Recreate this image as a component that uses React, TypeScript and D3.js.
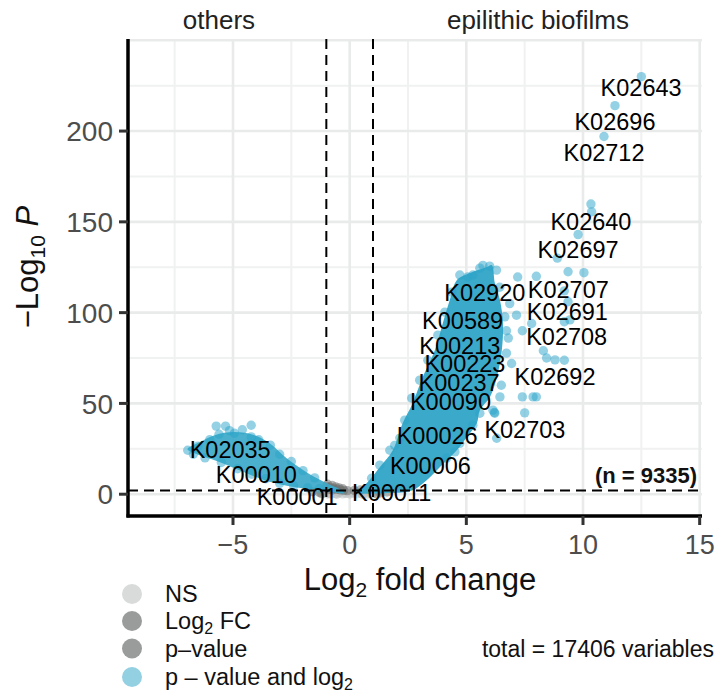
import * as d3 from "d3";

// axis ticks
const xTicks = [-5, 0, 5, 10, 15];
const xMinor = [-7.5, -2.5, 2.5, 7.5, 12.5];
const yTicks = [0, 50, 100, 150, 200];
const yGrid = [0, 50, 100, 150, 200, 250];
const yMinor = [25, 75, 125, 175, 225];

// cutoffs
const fcCutoff = 1;
const pCutoff = 2;

// dense part of the significant clouds (outline)
const rightCloud: [number, number][] = [
  [0.21, 1.1], [0.64, 5], [1.29, 14.9], [1.85, 24.2], [2.27, 39.1], [2.7, 50.1],
  [3.13, 64.5], [3.65, 79.3], [3.99, 94.2], [4.29, 106.9], [4.59, 117.9],
  [5.15, 121.8], [5.88, 125.1], [6.09, 126.2], [6.22, 116.3], [6.44, 106.9],
  [6.57, 94.2], [6.52, 79.3], [6.31, 64.5], [6.01, 53.4], [5.58, 46.3],
  [5.45, 39.1], [5.02, 31.4], [4.59, 24.2], [3.86, 14.9], [3.3, 7.7],
  [2.7, 2.2], [1.72, 0.6],
];
const leftCloud: [number, number][] = [
  [-6.95, 24.8], [-6.44, 28.6], [-5.79, 32.5], [-4.94, 34.2], [-4.08, 32.5],
  [-3.43, 28.1], [-2.7, 19.8], [-1.85, 12.1], [-1.16, 7.2], [-0.43, 2.8],
  [-0.21, 0.6], [-1.29, 2.2], [-2.58, 4.4], [-3.65, 7.7], [-4.72, 13.2],
  [-5.79, 18.7], [-6.65, 22.6],
];

// individual points visible around the clouds
const sigPoints: [number, number][] = [
  [12.5, 230], [11.37, 214], [10.9, 197], [10.34, 159.8], [10.37, 155.5],
  [9.79, 143], [8.9, 130], [9.36, 122.5], [10.04, 122], [8.0, 120], [7.2, 119.6],
  [9.2, 112], [9.36, 106], [9.44, 96], [9.2, 95], [7.15, 98.6], [7.8, 94],
  [7.4, 90], [6.8, 86], [8.3, 79], [8.8, 74], [9.2, 73.8], [8.44, 75], [6.94, 72],
  [7.86, 53.6], [7.4, 53.6], [8.0, 53.6], [7.5, 44.8], [6.5, 60], [6.44, 53.6],
  [6.2, 45], [6.3, 30.8], [5.28, 120.7], [5.06, 119.7], [6.0, 125.6],
  [6.14, 46.3], [6.22, 44.6], [5.58, 44.6], [5.28, 38], [4.72, 28], [4.51, 23.3],
  [4.15, 19.8], [6.72, 77.7], [6.72, 90], [6.65, 97.7], [6.86, 105], [6.43, 114],
  [6.29, 123.4], [5.71, 126], [5.58, 124.5], [2.36, 40.8], [2.15, 30.9],
  [1.72, 24.2], [1.93, 26.9], [1.29, 16], [0.94, 8.8], [2.66, 52.9], [3.0, 62.8],
  [3.35, 73.8], [3.78, 87.6], [4.08, 100.3], [4.38, 111.3], [4.72, 120.7],
  [-5.72, 37.5], [-5.32, 37.5], [-5.15, 35], [-4.22, 38], [-4.94, 33.6],
  [-4.22, 31.6], [-6.94, 24.2], [-6.5, 26.5], [-6.0, 30], [-5.6, 33], [-4.6, 35.5],
  [-3.9, 30], [-3.4, 27], [-3.0, 22], [-2.5, 18], [-2.0, 13], [-1.5, 9],
  [-6.7, 22], [-6.2, 20], [-5.5, 17.5], [-4.8, 14], [-4.2, 11], [-3.6, 8.5],
  [-3.0, 6], [-2.4, 4.5], [-1.8, 3.5], [-1.3, 3],
];
const nsPoints: [number, number][] = [
  [-0.9, 0.6], [-0.6, 0.3], [-0.3, 0.2], [0, 0.1], [0.3, 0.2], [0.6, 0.4],
  [0.9, 0.5], [-0.8, 0.1], [0.75, 0.1], [0.45, 0.8], [-0.45, 0.9], [0.15, 0.6],
  [-0.15, 0.5], [0.95, 0.1], [-0.95, 0.1], [0.55, 0], [-0.55, 0],
];
const pPoints: [number, number][] = [
  [-1.0, 4.5], [-0.85, 3.8], [-0.7, 3.2], [-0.55, 2.7], [-0.4, 2.4], [-0.25, 2.1],
  [-0.1, 2.0], [-0.9, 2.6], [0.2, 2.1], [0.45, 2.3], [-0.95, 5.5], [-0.75, 4.8],
  [-0.6, 4.0], [-0.45, 3.4], [-0.3, 3.0], [-0.75, 2.3],
];
const fcPoints: [number, number][] = [
  [-1.3, 1.0], [-1.6, 1.4], [1.3, 0.7], [1.6, 1.2], [-1.2, 0.3], [1.15, 0.3],
];

// gene labels (label centre)
const labelIds = [
  "K02643", "K02696", "K02712", "K02640", "K02697", "K02920", "K02707", "K02691",
  "K02708", "K00589", "K00213", "K00223", "K00237", "K02692", "K00090", "K02703",
  "K00026", "K00006", "K00011", "K00001", "K00010", "K02035",
];
const labelX = [
  12.49, 11.37, 10.9, 10.34, 9.79, 5.79, 9.37, 9.33, 9.3, 4.84, 4.72, 4.94, 4.69,
  8.8, 4.32, 7.51, 3.75, 3.46, 1.8, -2.25, -4.0, -5.12,
];
const labelY = [
  224.2, 205.5, 187.9, 150.4, 135, 110.9, 112.8, 100.4, 86.7, 95.9, 82.1, 72,
  61.3, 64.6, 50.9, 35.6, 32.5, 16, 1.1, -1.5, 11, 24.6,
];

const legendKeys = ["NS", "Log2 FC", "p-value", "p - value and log2"];
const legendColors = ["#d8dbda", "#9a9c9c", "#9a9c9c", "#93d0e2"];

const FONT = "'Liberation Sans', Arial, Helvetica, sans-serif";

export default function App() {
  const x = d3.scaleLinear([-9.5, 15.1], [128, 702]);
  const y = d3.scaleLinear([-12, 250.7], [516, 39]);
  const area = d3
    .line<[number, number]>()
    .x((d) => x(d[0]))
    .y((d) => y(d[1]))
    .curve(d3.curveCatmullRomClosed.alpha(0.5));

  const blue = "#2aa3c9";
  const r = 4.7;
  const panel = { l: 128, r: 702, t: 39, b: 516 };

  const legendY = [594, 621, 648.5, 677];

  return (
    <svg
      width={718}
      height={693}
      style={{ position: "absolute", left: 0, top: 0, background: "#fff" }}
      fontFamily={FONT}
    >
      <rect width={718} height={693} fill="#fff" />
      {/* grid */}
      <g>
        {xMinor.map((t) => (
          <line key={`xm${t}`} x1={x(t)} x2={x(t)} y1={panel.t} y2={panel.b} stroke="#f0f1f1" strokeWidth={2} />
        ))}
        {yMinor.map((t) => (
          <line key={`ym${t}`} x1={panel.l} x2={panel.r} y1={y(t)} y2={y(t)} stroke="#f0f1f1" strokeWidth={2} />
        ))}
        {xTicks.map((t) => (
          <line key={`xg${t}`} x1={x(t)} x2={x(t)} y1={panel.t} y2={panel.b} stroke="#e9ebeb" strokeWidth={2.6} />
        ))}
        {yGrid.map((t) => (
          <line key={`yg${t}`} x1={panel.l} x2={panel.r} y1={y(t)} y2={y(t)} stroke="#e9ebeb" strokeWidth={2.6} />
        ))}
      </g>

      {/* points */}
      <g>
        {nsPoints.map((d, i) => (
          <circle key={`ns${i}`} cx={x(d[0])} cy={y(d[1])} r={r} fill="#b8bcbb" fillOpacity={0.5} />
        ))}
        {fcPoints.map((d, i) => (
          <circle key={`fc${i}`} cx={x(d[0])} cy={y(d[1])} r={r} fill="#6b6e6e" fillOpacity={0.5} />
        ))}
        {pPoints.map((d, i) => (
          <circle key={`p${i}`} cx={x(d[0])} cy={y(d[1])} r={r} fill="#6b6e6e" fillOpacity={0.5} />
        ))}
        <path d={area(rightCloud) ?? ""} fill="#3ba9c9" />
        <path d={area(leftCloud) ?? ""} fill="#3ba9c9" fillOpacity={0.92} />
        {sigPoints.map((d, i) => (
          <circle key={`s${i}`} cx={x(d[0])} cy={y(d[1])} r={r} fill={blue} fillOpacity={0.5} />
        ))}
      </g>

      {/* cutoff lines */}
      <g stroke="#000" strokeWidth={2} strokeDasharray="10 6">
        <line x1={x(-fcCutoff)} x2={x(-fcCutoff)} y1={panel.t} y2={panel.b} />
        <line x1={x(fcCutoff)} x2={x(fcCutoff)} y1={panel.t} y2={panel.b} />
        <line x1={panel.l} x2={panel.r} y1={y(pCutoff)} y2={y(pCutoff)} />
      </g>

      {/* labels */}
      <g fontSize={23.5} fill="#000" textAnchor="middle">
        {labelIds.map((id, i) => (
          <text key={id} x={x(labelX[i])} y={y(labelY[i])} dy="0.36em">
            {id}
          </text>
        ))}
      </g>

      <text x={697} y={483} fontSize={22} fontWeight="bold" textAnchor="end" fill="#111">
        (n = 9335)
      </text>

      {/* axes */}
      <line x1={panel.l} x2={panel.l} y1={panel.t} y2={panel.b + 1.5} stroke="#000" strokeWidth={3.5} />
      <line x1={panel.l - 1.5} x2={panel.r} y1={panel.b} y2={panel.b} stroke="#000" strokeWidth={3.5} />
      {yTicks.map((t) => (
        <g key={`yt${t}`}>
          <line x1={panel.l - 9} x2={panel.l} y1={y(t)} y2={y(t)} stroke="#333" strokeWidth={3} />
          <text x={panel.l - 15} y={y(t)} dy="0.36em" textAnchor="end" fontSize={28} fill="#4d4d4d">
            {t}
          </text>
        </g>
      ))}
      {xTicks.map((t) => (
        <g key={`xt${t}`}>
          <line x1={x(t)} x2={x(t)} y1={panel.b} y2={panel.b + 9} stroke="#333" strokeWidth={3} />
          <text x={x(t)} y={554} textAnchor="middle" fontSize={27} fill="#4d4d4d">
            {t < 0 ? `\u2212${Math.abs(t)}` : t}
          </text>
        </g>
      ))}

      {/* axis titles */}
      <text x={420} y={590} textAnchor="middle" fontSize={31} fill="#111">
        Log<tspan fontSize={21} dy={7}>2</tspan>
        <tspan dy={-7}> fold change</tspan>
      </text>
      <text transform="translate(38,267) rotate(-90)" textAnchor="middle" fontSize={31} fill="#111">
        {"\u2212"}Log<tspan fontSize={21} dy={7}>10</tspan>
        <tspan dy={-7}> </tspan>
        <tspan fontStyle="italic">P</tspan>
      </text>

      {/* group captions */}
      <text x={219} y={29} textAnchor="middle" fontSize={26} fill="#222">
        others
      </text>
      <text x={538} y={29} textAnchor="middle" fontSize={26} fill="#222">
        epilithic biofilms
      </text>

      {/* legend */}
      <g fontSize={23.5} fill="#111">
        {legendKeys.map((k, i) => (
          <g key={k}>
            <circle cx={132} cy={legendY[i]} r={10} fill={legendColors[i]} />
            <text x={165} y={legendY[i]} dy="0.36em">
              {k === "Log2 FC" ? (
                <>
                  Log<tspan fontSize={16} dy={5}>2</tspan>
                  <tspan dy={-5}> FC</tspan>
                </>
              ) : k === "p - value and log2" ? (
                <>
                  p {"\u2013"} value and log<tspan fontSize={16} dy={5}>2</tspan>
                </>
              ) : k === "p-value" ? (
                "p\u2013value"
              ) : (
                k
              )}
            </text>
          </g>
        ))}
      </g>
      <text x={714} y={648.5} dy="0.36em" textAnchor="end" fontSize={23} fill="#111">
        total = 17406 variables
      </text>
    </svg>
  );
}
